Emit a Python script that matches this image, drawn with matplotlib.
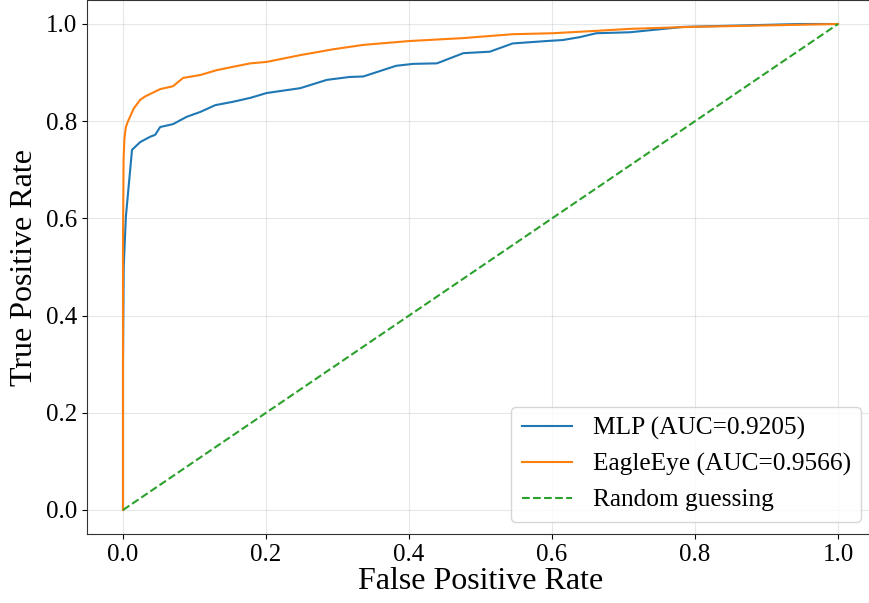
import matplotlib
matplotlib.use('Agg')
import matplotlib.pyplot as plt

plt.rcParams.update({
    'font.family': 'serif',
    'font.serif': ['Liberation Serif', 'DejaVu Serif'],
    'mathtext.fontset': 'stix',
})

# ROC points
mlp_fpr = [0.0, 0.0, 0.001, 0.004, 0.0126, 0.024, 0.038, 0.045, 0.052, 0.070,
           0.089, 0.108, 0.129, 0.154, 0.178, 0.201, 0.248, 0.285, 0.317,
           0.336, 0.382, 0.406, 0.439, 0.476, 0.513, 0.545, 0.593, 0.615,
           0.639, 0.662, 0.709, 0.783, 0.947, 1.0]
mlp_tpr = [0.0, 0.30, 0.50, 0.603, 0.741, 0.757, 0.768, 0.772, 0.788, 0.794,
           0.809, 0.819, 0.833, 0.840, 0.848, 0.858, 0.868, 0.885, 0.891,
           0.892, 0.914, 0.918, 0.919, 0.940, 0.943, 0.960, 0.965, 0.967,
           0.973, 0.981, 0.983, 0.994, 1.0, 1.0]

eagle_fpr = [0.0, 0.0, 0.0008, 0.002, 0.004, 0.007, 0.0098, 0.015, 0.024,
             0.031, 0.038, 0.052, 0.070, 0.084, 0.108, 0.131, 0.154, 0.178,
             0.201, 0.248, 0.294, 0.336, 0.401, 0.476, 0.545, 0.601, 0.663,
             0.709, 0.793, 1.0]
eagle_tpr = [0.0, 0.55, 0.72, 0.765, 0.788, 0.800, 0.809, 0.826, 0.844,
             0.851, 0.856, 0.866, 0.872, 0.889, 0.895, 0.905, 0.912, 0.919,
             0.922, 0.936, 0.948, 0.957, 0.965, 0.971, 0.979, 0.981, 0.986,
             0.990, 0.994, 1.0]

mlp_auc = 0.9205
eagle_auc = 0.9566

fig = plt.figure(figsize=(8.69, 6.03), dpi=100)
ax = fig.add_axes([87.25 / 869, 68.7 / 603, 786.5 / 869, 534.6 / 603])

ax.plot(mlp_fpr, mlp_tpr, color='#1f77b4', lw=1.5,
        label=f'MLP (AUC={mlp_auc:.4f})')
ax.plot(eagle_fpr, eagle_tpr, color='#ff7f0e', lw=1.5,
        label=f'EagleEye (AUC={eagle_auc:.4f})')
ax.plot([0, 1], [0, 1], color='#2ca02c', lw=1.5, linestyle='--',
        label='Random guessing')

ax.set_xlim(-0.05, 1.05)
ax.set_ylim(-0.05, 1.05)
ax.set_xticks([0.0, 0.2, 0.4, 0.6, 0.8, 1.0])
ax.set_yticks([0.0, 0.2, 0.4, 0.6, 0.8, 1.0])
ax.tick_params(labelsize=18)
ax.set_xlabel('False Positive Rate', fontsize=23, labelpad=1)
ax.set_ylabel('True Positive Rate', fontsize=23, labelpad=5)
ax.grid(True, alpha=0.3)
for s in ax.spines.values():
    s.set_color('#333333')

ax.legend(loc='lower right', fontsize=18.3)

fig.savefig('out.png', dpi=100)
